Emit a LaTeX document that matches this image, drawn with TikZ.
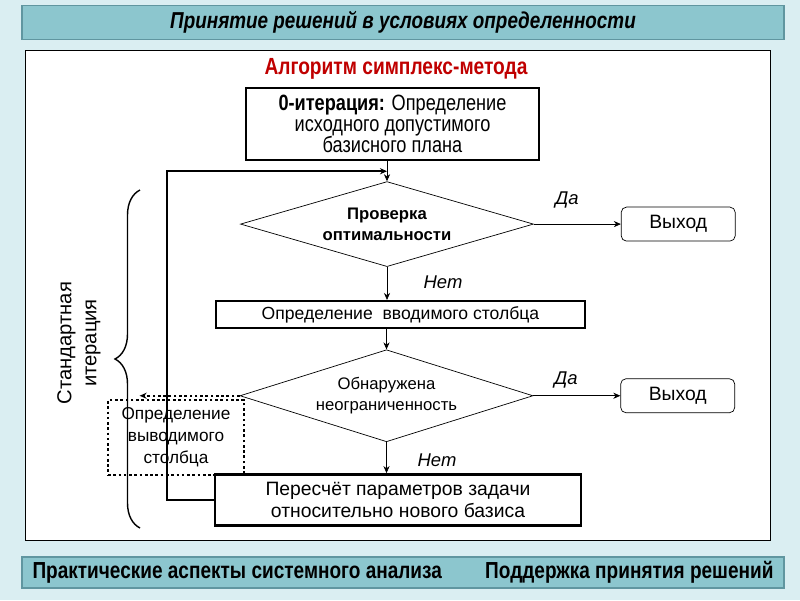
\documentclass[tikz,border=0pt]{standalone}
\usepackage{fontspec}
\setmainfont{Liberation Sans}
\newfontfamily\narrowfont[FakeStretch=0.82]{Liberation Sans}
\usepackage{xcolor}
\usepackage{tikz}
\usetikzlibrary{arrows.meta,shapes,positioning,calc,decorations.pathreplacing}
\definecolor{simbg}{RGB}{218,238,242}
\definecolor{simbar}{RGB}{140,198,206}
\definecolor{simedge}{RGB}{96,150,160}
\definecolor{simred}{RGB}{192,0,0}

\begin{document}
\begin{tikzpicture}[
    stepbox/.style={rectangle, draw, line width=1.4pt, fill=white, align=center, inner sep=2pt, font=\fontsize{10}{12.5}\selectfont},
    check/.style={diamond, aspect=3.45, draw, fill=white, minimum width=5.86cm, minimum height=1.7cm, inner sep=0pt, align=center, font=\fontsize{9.5}{12}\selectfont},
    exitbox/.style={rectangle, draw, fill=white, rounded corners=3pt, minimum width=2.28cm, minimum height=0.68cm, font=\fontsize{11}{13}\selectfont},
    bar/.style={rectangle, draw=simedge, fill=simbar, line width=0.8pt, minimum width=15.24cm},
    answer/.style={font=\fontsize{10.5}{12}\selectfont\itshape},
    arrow/.style={-{Stealth[length=4pt,width=3.5pt]}, thin}
]
    % Background and page frame
    \fill[simbg] (0,0) rectangle (16,-12);
    \useasboundingbox (0,0) rectangle (16,-12);
    \node[bar, minimum height=0.58cm, font=\narrowfont\bfseries\itshape\fontsize{13.1}{14}\selectfont] (head) at (8.06,-0.45) {Принятие решений в условиях определенности};
    \node[bar, minimum height=0.62cm] (foot) at (8.06,-11.45) {};
    \node[anchor=west, font=\narrowfont\bfseries\fontsize{13.2}{14}\selectfont] (practice) at ([xshift=0.1cm]foot.west) {Практические аспекты системного анализа};
    \node[anchor=east, font=\narrowfont\bfseries\fontsize{13.2}{14}\selectfont] (support) at ([xshift=-0.1cm]foot.east) {Поддержка принятия решений};
    \node[draw, fill=white, minimum width=14.9cm, minimum height=9.8cm] (panel) at (7.95,-5.9) {};
    \node[text=simred, font=\narrowfont\bfseries\fontsize{13.3}{15}\selectfont] (algo) at (7.92,-1.38) {Алгоритм симплекс-метода};

    % Main chain
    \node[stepbox, minimum width=5.86cm, minimum height=1.44cm, font=\narrowfont\fontsize{12.6}{12}\selectfont] (zero) at (7.85,-2.48) {\textbf{0-итерация:} Определение\\исходного допустимого\\базисного плана};
    \node[check, below=0.4cm of zero, xshift=-0.11cm, font=\bfseries\fontsize{9.5}{12}\selectfont] (optimal) {Проверка\\оптимальности};
    \node[stepbox, below=0.66cm of optimal, xshift=0.27cm, minimum width=7.38cm, minimum height=0.54cm] (entering) {Определение\ \ вводимого столбца};
    \node[check, below=0.4cm of entering, xshift=-0.28cm, minimum height=1.84cm] (unbounded) {Обнаружена\\неограниченность};
    \node[stepbox, below=0.62cm of unbounded, xshift=0.23cm, minimum width=7.32cm, minimum height=1.02cm, font=\fontsize{11}{12.5}\selectfont] (pivot) {Пересчёт параметров задачи\\относительно нового базиса};

    % Exits
    \node[exitbox, right=1.74cm of optimal] (exitopt) {Выход};
    \node[exitbox, right=1.74cm of unbounded] (exitunb) {Выход};

    % Leaving column
    \node[rectangle, draw, dash pattern=on 1.5pt off 1.5pt, line width=1.2pt, minimum width=2.72cm, minimum height=1.5cm, align=center, font=\fontsize{9.8}{12.5}\selectfont] (leaving) at (3.52,-8.75) {Определение\\выводимого\\столбца};
    \coordinate[left=2cm of unbounded.west] (lefttip);
    \coordinate (loopjoin) at ($(zero.south)!0.5!(optimal.north)$);

    % Connections
    \draw[arrow] (zero.south -| optimal.north) -- (optimal.north);
    \draw[arrow] (optimal.south) -- (optimal.south |- entering.north);
    \draw[arrow] (entering.south -| unbounded.north) -- (unbounded.north);
    \draw[arrow] (unbounded.south) -- (unbounded.south |- pivot.north);
    \draw[arrow] (optimal.east) -- (exitopt.west);
    \draw[arrow] (unbounded.east) -- (exitunb.west);
    \draw[arrow, line width=1pt] (pivot.west) -- ++(-0.94,0) |- (loopjoin -| optimal.north);
    \draw[arrow, dash pattern=on 1.5pt off 1.5pt, line width=1.2pt] (unbounded.west) -- (lefttip);

    % Answers
    \node[answer] (yesopt) at (11.34,-4.0) {Да};
    \node[answer] (noopt) at (8.86,-5.64) {Нет};
    \node[answer] (yesunb) at (11.32,-7.6) {Да};
    \node[answer] (nounb) at (8.74,-9.2) {Нет};

    % Standard iteration
    \draw[decorate, decoration={brace, amplitude=0.5cm}, line width=0.8pt] (2.8,-10.56) -- (2.8,-3.8);
    \node[rotate=90, align=center, font=\fontsize{11.5}{14.2}\selectfont] (standard) at (1.58,-6.86) {Стандартная\\итерация};
\end{tikzpicture}
\end{document}
